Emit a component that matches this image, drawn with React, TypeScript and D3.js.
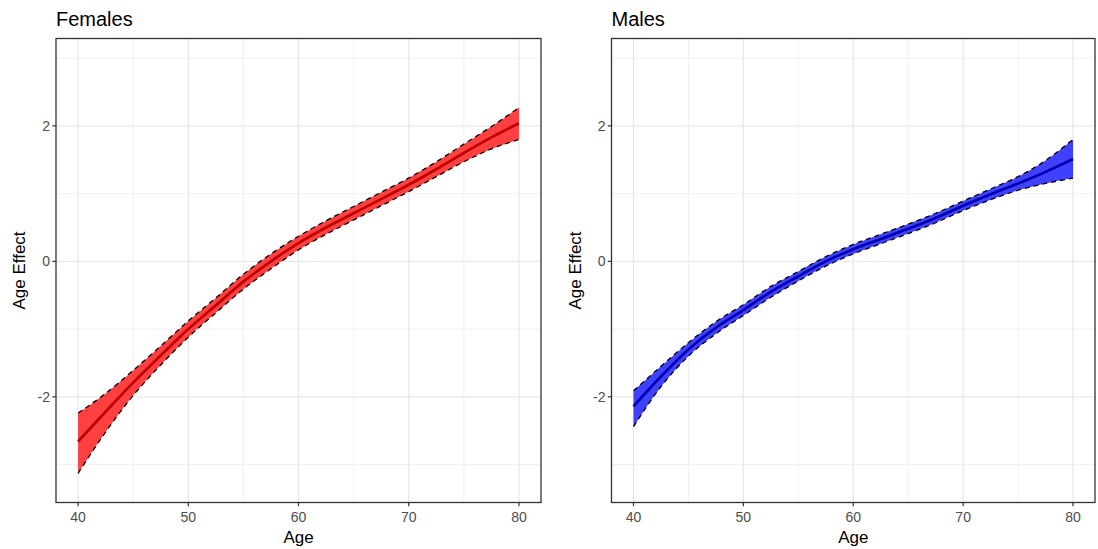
import React from "react";
import * as d3 from "d3";

const ages = [40, 42.5, 45, 47.5, 50, 52.5, 55, 57.5, 60, 62.5, 65, 67.5, 70, 72.5, 75, 77.5, 80];
const femaleMean = [-2.66, -2.22, -1.79, -1.39, -1.0, -0.65, -0.3, 0.0, 0.27, 0.5, 0.71, 0.92, 1.13, 1.36, 1.6, 1.83, 2.04];
const femaleUpper = [-2.24, -1.95, -1.61, -1.25, -0.88, -0.54, -0.19, 0.11, 0.37, 0.6, 0.81, 1.02, 1.23, 1.47, 1.73, 1.99, 2.27];
const femaleLower = [-3.13, -2.52, -1.98, -1.53, -1.12, -0.76, -0.41, -0.11, 0.17, 0.4, 0.61, 0.82, 1.03, 1.25, 1.47, 1.66, 1.8];
const maleMean = [-2.14, -1.7, -1.3, -0.98, -0.72, -0.45, -0.22, 0.0, 0.18, 0.33, 0.48, 0.64, 0.82, 0.99, 1.15, 1.32, 1.51];
const maleUpper = [-1.91, -1.55, -1.2, -0.89, -0.64, -0.37, -0.15, 0.07, 0.25, 0.4, 0.55, 0.71, 0.89, 1.07, 1.25, 1.49, 1.8];
const maleLower = [-2.44, -1.85, -1.4, -1.07, -0.8, -0.53, -0.29, -0.07, 0.11, 0.26, 0.41, 0.57, 0.75, 0.91, 1.05, 1.15, 1.23];

const xTicks = [40, 50, 60, 70, 80];
const xMinor = [45, 55, 65, 75];
const yTicks = [-2, 0, 2];
const yMinor = [-3, -1, 1, 3];

const W = 1098;
const H = 549;
const yTop = 38.5;
const yBottom = 502.5;
const FONT = "Liberation Sans, Arial, sans-serif";

type PanelProps = {
  title: string;
  left: number;
  right: number;
  mean: number[];
  upper: number[];
  lower: number[];
  fill: string;
  lineColor: string;
};

const Panel = ({ title, left, right, mean, upper, lower, fill, lineColor }: PanelProps) => {
  const x = d3.scaleLinear().domain([38, 82]).range([left, right]);
  const y = d3.scaleLinear().domain([-3.56, 3.29]).range([yBottom, yTop]);
  const pts = ages.map((a, i) => ({ a, m: mean[i], u: upper[i], l: lower[i] }));
  const curve = d3.curveMonotoneX;
  const area = d3
    .area<any>()
    .x((d) => x(d.a))
    .y0((d) => y(d.l))
    .y1((d) => y(d.u))
    .curve(curve);
  const line = (key: "m" | "u" | "l") =>
    d3
      .line<any>()
      .x((d) => x(d.a))
      .y((d) => y(d[key]))
      .curve(curve)(pts) as string;
  const midX = (left + right) / 2;
  const midY = (yTop + yBottom) / 2;
  return (
    <g>
      <rect x={left} y={yTop} width={right - left} height={yBottom - yTop} fill="white" />
      {yMinor.map((v) => (
        <line key={"ym" + v} x1={left} x2={right} y1={y(v)} y2={y(v)} stroke="#ebebeb" strokeWidth={0.7} />
      ))}
      {xMinor.map((v) => (
        <line key={"xm" + v} x1={x(v)} x2={x(v)} y1={yTop} y2={yBottom} stroke="#ebebeb" strokeWidth={0.7} />
      ))}
      {yTicks.map((v) => (
        <line key={"yM" + v} x1={left} x2={right} y1={y(v)} y2={y(v)} stroke="#e8e8e8" strokeWidth={1.3} />
      ))}
      {xTicks.map((v) => (
        <line key={"xM" + v} x1={x(v)} x2={x(v)} y1={yTop} y2={yBottom} stroke="#e8e8e8" strokeWidth={1.3} />
      ))}
      <path d={area(pts) as string} fill={fill} stroke="none" />
      <path d={line("m")} fill="none" stroke={lineColor} strokeWidth={2.7} />
      <path d={line("u")} fill="none" stroke="black" strokeWidth={1.3} strokeDasharray="5 4" />
      <path d={line("l")} fill="none" stroke="black" strokeWidth={1.3} strokeDasharray="5 4" />
      <rect x={left} y={yTop} width={right - left} height={yBottom - yTop} fill="none" stroke="#333333" strokeWidth={1.3} />
      {xTicks.map((v) => (
        <g key={"xt" + v}>
          <line x1={x(v)} x2={x(v)} y1={yBottom} y2={yBottom + 3.7} stroke="#333333" strokeWidth={1.2} />
          <text x={x(v)} y={yBottom + 19} textAnchor="middle" fontSize={14} fill="#4d4d4d" fontFamily={FONT}>
            {v}
          </text>
        </g>
      ))}
      {yTicks.map((v) => (
        <g key={"yt" + v}>
          <line x1={left - 3.7} x2={left} y1={y(v)} y2={y(v)} stroke="#333333" strokeWidth={1.2} />
          <text x={left - 6} y={y(v) + 5} textAnchor="end" fontSize={14} fill="#4d4d4d" fontFamily={FONT}>
            {v}
          </text>
        </g>
      ))}
      <text x={midX} y={543} textAnchor="middle" fontSize={17} fill="black" fontFamily={FONT}>
        Age
      </text>
      <text
        transform={`translate(${left - 31},${midY}) rotate(-90)`}
        textAnchor="middle"
        fontSize={17}
        fill="black"
        fontFamily={FONT}
      >
        Age Effect
      </text>
      <text x={left} y={26} fontSize={20} fill="black" fontFamily={FONT}>
        {title}
      </text>
    </g>
  );
};

export default function App() {
  return (
    <svg width={W} height={H} style={{ position: "absolute", left: 0, top: 0, background: "white" }}>
      <rect x={0} y={0} width={W} height={H} fill="white" />
      <Panel title="Females" left={56} right={541} mean={femaleMean} upper={femaleUpper} lower={femaleLower} fill="#ff4040" lineColor="#c00000" />
      <Panel title="Males" left={611.5} right={1095} mean={maleMean} upper={maleUpper} lower={maleLower} fill="#4040ff" lineColor="#0000b0" />
    </svg>
  );
}
